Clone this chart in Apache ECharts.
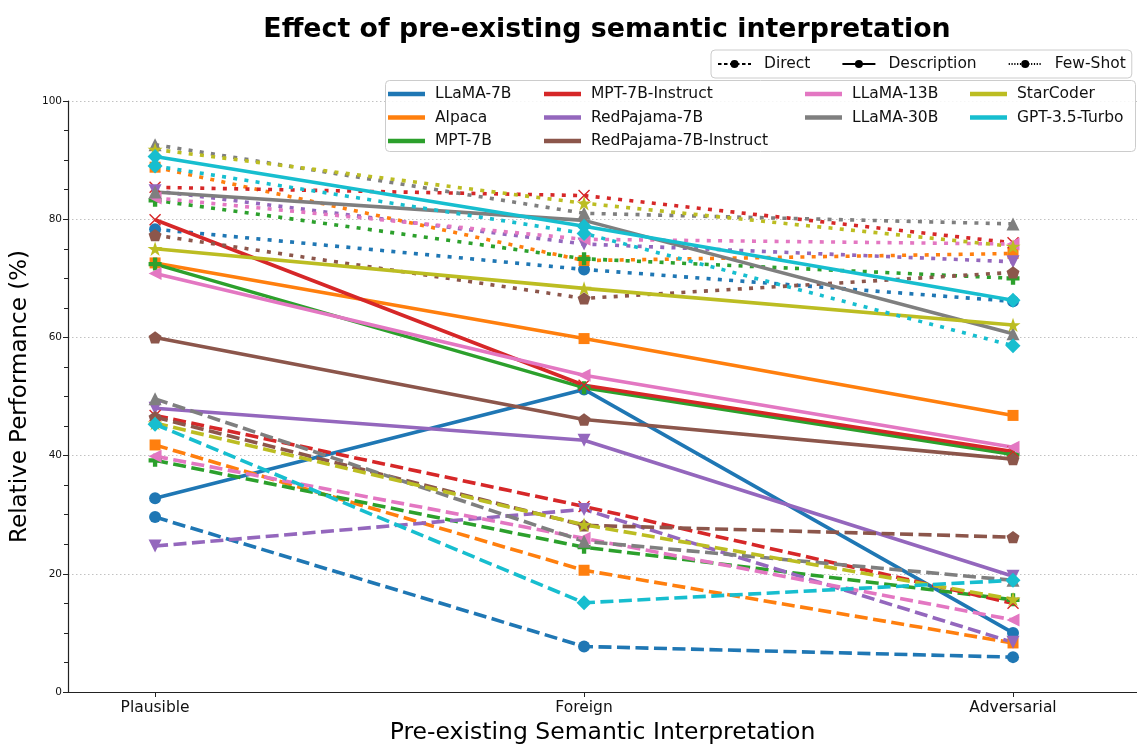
<!DOCTYPE html>
<html><head><meta charset="utf-8">
<script src="https://cdn.jsdelivr.net/npm/echarts@6/dist/echarts.min.js"></script>
<style>html,body{margin:0;padding:0;background:#fff}#c{width:1137px;height:747px}</style>
</head><body><div id="c"></div>
<script>
// ---------- data ----------
const categories = ['Plausible', 'Foreign', 'Adversarial'];
const models = ['LLaMA-7B', 'Alpaca', 'MPT-7B', 'MPT-7B-Instruct', 'RedPajama-7B',
  'RedPajama-7B-Instruct', 'LLaMA-13B', 'LLaMA-30B', 'StarCoder', 'GPT-3.5-Turbo'];
const styles = ['Direct', 'Description', 'Few-Shot'];
const yTicks = [0, 20, 40, 60, 80, 100];

// values per model: [Plausible, Foreign, Adversarial]
const directScores = [
  [29.6, 7.7, 5.9],
  [41.8, 20.6, 8.3],
  [39.2, 24.5, 15.6],
  [46.8, 31.4, 15.0],
  [24.7, 30.9, 8.4],
  [46.5, 28.2, 26.2],
  [39.9, 26.0, 12.2],
  [49.6, 25.5, 18.9],
  [45.5, 28.3, 15.7],
  [45.3, 15.1, 18.9]
];
const descriptionScores = [
  [32.8, 51.2, 10.0],
  [72.6, 59.8, 46.8],
  [72.4, 51.5, 40.2],
  [79.9, 51.9, 40.7],
  [48.0, 42.6, 19.6],
  [60.0, 46.1, 39.4],
  [70.8, 53.6, 41.4],
  [84.6, 79.8, 60.6],
  [75.0, 68.3, 62.1],
  [90.6, 78.8, 66.3]
];
const fewShotScores = [
  [78.3, 71.5, 66.1],
  [88.8, 73.0, 74.2],
  [83.2, 73.3, 70.0],
  [85.4, 84.0, 76.0],
  [84.8, 75.8, 72.8],
  [77.3, 66.6, 71.0],
  [83.6, 76.6, 75.8],
  [92.6, 81.0, 79.2],
  [91.8, 82.7, 75.4],
  [89.0, 77.6, 58.6]
];

// ---------- styling ----------
const FONT = 'DejaVu Sans';
const colors = ['#1f77b4', '#ff7f0e', '#2ca02c', '#d62728', '#9467bd',
  '#8c564b', '#e377c2', '#7f7f7f', '#bcbd22', '#17becf'];
const symbols = [
  'circle',
  'rect',
  'path://M4,0H8V4H12V8H8V12H4V8H0V4H4Z',
  'path://M1,0L6,5L11,0L12,1L7,6L12,11L11,12L6,7L1,12L0,11L5,6L0,1Z',
  'path://M0,0L12,0L6,12Z',
  'path://M10,0L19.51,6.91L15.88,18.09L4.12,18.09L0.49,6.91Z',
  'path://M12,0L12,12L0,6Z',
  'path://M6,0L12,12L0,12Z',
  'path://M10,0L12.245,6.91L19.51,6.91L13.63,11.18L15.88,18.09L10,13.82L4.12,18.09L6.37,11.18L0.49,6.91L7.755,6.91Z',
  'diamond'
];
const symbolSizes = [12, 11, 13, 12, 13, 13, 13, 13, 15, 15];
const lineTypes = { 'Direct': [13, 5.5], 'Description': 'solid', 'Few-Shot': [4, 7.3] };
const scoreSets = { 'Direct': directScores, 'Description': descriptionScores, 'Few-Shot': fewShotScores };

const series = [];
models.forEach((m, i) => {
  styles.forEach(s => {
    const vals = scoreSets[s][i];
    series.push({
      type: 'line',
      name: s === 'Description' ? m : m + ' (' + s + ')',
      data: vals.map((v, k) => [k, v]),
      symbol: symbols[i],
      symbolSize: symbolSizes[i],
      symbolKeepAspect: true,
      showAllSymbol: true,
      color: colors[i],
      itemStyle: { color: colors[i], borderWidth: 0 },
      lineStyle: { color: colors[i], width: 3.6, type: lineTypes[s], cap: 'butt' },
      emphasis: { disabled: true },
      silent: true
    });
  });
});
// legend-only style series
const styleLegendTypes = { 'Direct': [3.5, 2.5], 'Description': 'solid', 'Few-Shot': [1.2, 1.6] };
styles.forEach(s => {
  series.push({
    type: 'line', name: s, data: [], symbol: 'circle', symbolSize: 8,
    color: '#000', itemStyle: { color: '#000' },
    lineStyle: { color: '#000', width: 1.2, type: styleLegendTypes[s] }
  });
});

const modelLegend = (names, left) => ({
  data: names, left: left, top: 86, orient: 'vertical', padding: 0,
  icon: 'rect', itemWidth: 37, itemHeight: 4.5, itemGap: 7.5,
  selectedMode: false,
  textStyle: { fontFamily: FONT, fontSize: 15.5, color: '#111', lineHeight: 16, padding: [0, 0, 0, 5] }
});

const option = {
  animation: false,
  backgroundColor: '#fff',
  title: {
    text: 'Effect of pre-existing semantic interpretation',
    left: 602, top: 12, textAlign: 'center',
    textStyle: { fontFamily: FONT, fontSize: 26.8, fontWeight: 'bold', color: '#000' }
  },
  grid: { left: 68, right: 0, top: 101, bottom: 55, containLabel: false, outerBoundsMode: 'none' },
  graphic: [{
    type: 'rect', left: 385, top: 80, z: 3,
    shape: { width: 750, height: 71, r: 4 },
    style: { fill: 'rgba(255,255,255,0.85)', stroke: '#cccccc', lineWidth: 1 }
  }],
  legend: [
    {
      data: styles, left: 711, top: 50, orient: 'horizontal',
      padding: [6, 6, 6, 6], itemGap: 31, itemWidth: 33, itemHeight: 10,
      selectedMode: false,
      borderColor: '#cccccc', borderWidth: 1, borderRadius: 4,
      backgroundColor: 'rgba(255,255,255,0.85)',
      textStyle: { fontFamily: FONT, fontSize: 15.5, color: '#111', lineHeight: 16, padding: [0, 0, 0, 8] }
    },
    modelLegend(models.slice(0, 3), 388),
    modelLegend(models.slice(3, 6), 544),
    modelLegend(models.slice(6, 8), 805),
    modelLegend(models.slice(8, 10), 970)
  ],
  xAxis: {
    type: 'value', min: -0.203, max: 2.289,
    name: 'Pre-existing Semantic Interpretation', nameLocation: 'middle', nameGap: 27,
    nameTextStyle: { fontFamily: FONT, fontSize: 23.5, color: '#000' },
    axisLine: { show: true, onZero: false, lineStyle: { color: '#222', width: 1.2 } },
    axisTick: { show: true, customValues: [0, 1, 2], length: 5, lineStyle: { color: '#222' } },
    axisLabel: {
      customValues: [0, 1, 2], margin: 8,
      formatter: v => categories[Math.round(v)] || '',
      fontFamily: FONT, fontSize: 15.5, color: '#111'
    },
    splitLine: { show: false }
  },
  yAxis: {
    type: 'value', min: 0, max: 100, interval: 20,
    name: 'Relative Performance (%)', nameLocation: 'middle', nameGap: 32,
    nameTextStyle: { fontFamily: FONT, fontSize: 23, color: '#000' },
    axisLine: { show: true, onZero: false, lineStyle: { color: '#222', width: 1.2 } },
    axisTick: { show: true, length: 5, lineStyle: { color: '#222' } },
    minorTick: { show: true, splitNumber: 4, length: 4, lineStyle: { color: '#222' } },
    axisLabel: {
      fontFamily: FONT, fontSize: 10.5, color: '#111', margin: 6,
      formatter: v => (yTicks.indexOf(v) >= 0 ? String(v) : '')
    },
    splitLine: { show: true, lineStyle: { color: '#bbbbbb', width: 0.9, type: [1.5, 2.5] } }
  },
  series: series
};

const chart = echarts.init(document.getElementById('c'), null, { renderer: 'canvas' });
chart.setOption(option);
</script>
</body></html>
